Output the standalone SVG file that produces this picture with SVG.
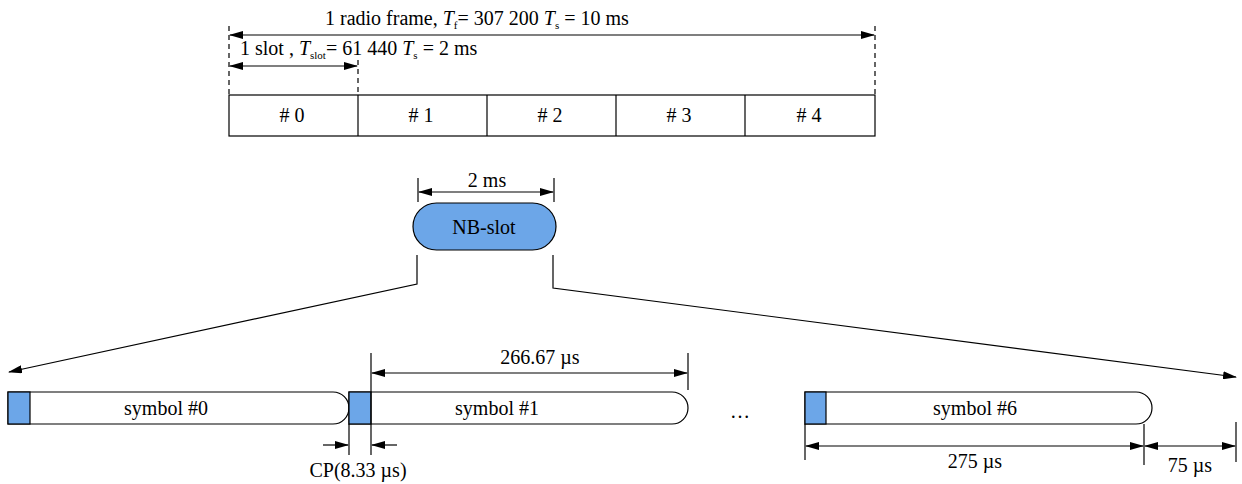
<svg xmlns="http://www.w3.org/2000/svg" width="1242" height="484" viewBox="0 0 1242 484">
<style>
text{font-family:"Liberation Serif","Times New Roman",serif;font-size:20px;fill:#000}
.c{text-anchor:middle}
.ln{stroke:#000;stroke-width:1.2;fill:none}
.dash{stroke:#000;stroke-width:1.2;stroke-dasharray:5,4;fill:none}
.box{fill:#fff;stroke:#000;stroke-width:1.2}
.blue{fill:#6ca6e8;stroke:#000;stroke-width:1.2}
.dim{stroke:#000;stroke-width:1.2;fill:none;marker-end:url(#ah)}
.dim2{stroke:#000;stroke-width:1.2;fill:none;marker-start:url(#ahs);marker-end:url(#ah)}
</style>
<defs>
<marker id="ah" markerWidth="14" markerHeight="8" refX="13" refY="4" orient="auto" markerUnits="userSpaceOnUse"><path d="M0,0 L14,4 L0,8 z" fill="#000"/></marker>
<marker id="ahs" markerWidth="14" markerHeight="8" refX="1" refY="4" orient="auto" markerUnits="userSpaceOnUse"><path d="M14,0 L0,4 L14,8 z" fill="#000"/></marker>
</defs>
<rect width="1242" height="484" fill="#fff"/>

<g id="frame">
<rect class="box" x="229" y="95" width="646" height="41"/>
<line class="ln" x1="358" y1="95" x2="358" y2="136"/>
<line class="ln" x1="487" y1="95" x2="487" y2="136"/>
<line class="ln" x1="616" y1="95" x2="616" y2="136"/>
<line class="ln" x1="745" y1="95" x2="745" y2="136"/>
<text class="c" x="292" y="122"># 0</text>
<text class="c" x="421" y="122"># 1</text>
<text class="c" x="550" y="122"># 2</text>
<text class="c" x="679" y="122"># 3</text>
<text class="c" x="809" y="122"># 4</text>
</g>

<g id="frame-dims">
<line class="dash" x1="229" y1="26" x2="229" y2="95"/>
<line class="dash" x1="358" y1="60" x2="358" y2="95"/>
<line class="dash" x1="875" y1="26" x2="875" y2="95"/>
<line class="dim2" x1="230" y1="35" x2="874" y2="35"/>
<line class="dim2" x1="230" y1="66" x2="357" y2="66"/>
<text x="325" y="25">1 radio frame, <tspan font-style="italic">T</tspan><tspan font-size="11" dy="4">f</tspan><tspan dy="-4">= 307 200 </tspan><tspan font-style="italic">T</tspan><tspan font-size="11" dy="4">s</tspan><tspan dy="-4"> = 10 ms</tspan></text>
<text x="240" y="55">1 slot , <tspan font-style="italic">T</tspan><tspan font-size="11" dy="4">slot</tspan><tspan dy="-4">= 61 440 </tspan><tspan font-style="italic">T</tspan><tspan font-size="11" dy="4">s</tspan><tspan dy="-4"> = 2 ms</tspan></text>
</g>

<g id="nbslot">
<rect class="blue" x="413" y="203" width="143" height="47" rx="23.5" ry="23.5"/>
<text class="c" x="484" y="234">NB-slot</text>
<line class="ln" x1="418" y1="178" x2="418" y2="202"/>
<line class="ln" x1="554" y1="178" x2="554" y2="202"/>
<line class="dim2" x1="419" y1="192" x2="553" y2="192"/>
<text class="c" x="487" y="187">2 ms</text>
</g>

<g id="connectors">
<polyline class="dim" points="417,255 417,284 9,372"/>
<polyline class="dim" points="553,255 553,288 1236,377"/>
</g>

<g id="symbol0">
<path class="box" d="M8,392 H333 A16,16 0 0 1 333,424 H8 Z"/>
<rect class="blue" x="8" y="392" width="22" height="32"/>
<text class="c" x="166" y="415">symbol #0</text>
</g>

<g id="symbol1">
<path class="box" d="M349,392 H672 A16,16 0 0 1 672,424 H349 Z"/>
<rect class="blue" x="349" y="392" width="22" height="32"/>
<text class="c" x="497" y="415">symbol #1</text>
</g>

<text class="c" x="740" y="418">…</text>

<g id="symbol6">
<path class="box" d="M805,392 H1136 A16,16 0 0 1 1136,424 H805 Z"/>
<rect class="blue" x="805" y="392" width="21" height="32"/>
<text class="c" x="975" y="415">symbol #6</text>
</g>

<g id="dims">
<line class="ln" x1="371" y1="353" x2="371" y2="455"/>
<line class="ln" x1="688" y1="353" x2="688" y2="390"/>
<line class="dim2" x1="372" y1="373" x2="687" y2="373"/>
<text class="c" x="540" y="364">266.67 µs</text>

<line class="ln" x1="349" y1="424" x2="349" y2="455"/>
<line class="dim" x1="323" y1="445" x2="348" y2="445"/>
<line class="dim" x1="397" y1="445" x2="372" y2="445"/>
<text class="c" x="358" y="477">CP(8.33 µs)</text>

<line class="ln" x1="805" y1="424" x2="805" y2="460"/>
<line class="ln" x1="1144" y1="424" x2="1144" y2="465"/>
<line class="ln" x1="1236" y1="422" x2="1236" y2="462"/>
<line class="dim2" x1="806" y1="446" x2="1143" y2="446"/>
<line class="dim2" x1="1145" y1="446" x2="1235" y2="446"/>
<text class="c" x="975" y="468">275 µs</text>
<text class="c" x="1190" y="472">75 µs</text>
</g>
</svg>
